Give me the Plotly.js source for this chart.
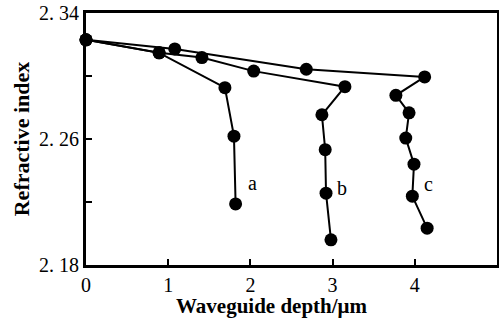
<!DOCTYPE html>
<html>
<head>
<meta charset="utf-8">
<script src="https://cdn.plot.ly/plotly-3.0.1.min.js"></script>
<style>html,body{margin:0;padding:0;background:#fff;}#chart{width:499px;height:322px;}</style>
</head>
<body>
<div id="chart"></div>
<script>
// Waveguide depth (um) and refractive index for curves a, b, c
const depthA = [0.00, 0.89, 1.69, 1.80, 1.82];
const indexA = [2.323, 2.3147, 2.2926, 2.2618, 2.2188];
const depthB = [0.00, 0.89, 1.41, 2.04, 3.15, 2.87, 2.91, 2.92, 2.98];
const indexB = [2.323, 2.3147, 2.3117, 2.3031, 2.2932, 2.2754, 2.2532, 2.2256, 2.1960];
const depthC = [0.00, 1.08, 2.68, 4.12, 3.77, 3.93, 3.89, 3.99, 3.97, 4.15];
const indexC = [2.323, 2.3172, 2.3043, 2.2994, 2.2877, 2.2766, 2.2606, 2.2440, 2.2237, 2.2034];
const curveLabels = ["a", "b", "c"];
const labelX = [2.02, 3.12, 4.17];
const labelY = [2.2323, 2.2292, 2.2317];
const xTicks = [0, 1, 2, 3, 4, 5];
const yTickVals = [2.18, 2.22, 2.26, 2.30, 2.34];
const yTickText = ["2. 18", "", "2. 26", "", "2. 34"];
const xTitle = "Waveguide depth/μm";
const yTitle = "Refractive index";

const serif = "Liberation Serif, Times New Roman, serif";
const mk = (x, y) => ({
  x: x, y: y, type: "scatter", mode: "lines+markers",
  line: {color: "#000", width: 2},
  marker: {color: "#000", size: 13},
  showlegend: false, cliponaxis: false
});
const data = [mk(depthA, indexA), mk(depthB, indexB), mk(depthC, indexC)];

const annotations = curveLabels.map((t, i) => ({
  x: labelX[i], y: labelY[i], text: t, showarrow: false,
  font: {family: serif, size: 20, color: "#000"}
}));
annotations.push({
  xref: "paper", yref: "paper", x: 0.452, y: -0.163, xanchor: "center", yanchor: "middle",
  text: "<b>" + xTitle + "</b>", showarrow: false,
  font: {family: serif, size: 21, color: "#000"}
});

const layout = {
  width: 499, height: 322,
  margin: {l: 86, r: 2, t: 13, b: 57, pad: 0},
  paper_bgcolor: "#fff", plot_bgcolor: "#fff",
  font: {family: serif, color: "#000"},
  xaxis: {
    range: [0, 5], tickvals: xTicks, ticktext: xTicks.map(String),
    ticks: "inside", ticklen: 6, tickwidth: 2, tickcolor: "#000",
    showline: true, linewidth: 3, linecolor: "#000", mirror: true,
    showgrid: false, zeroline: false,
    tickfont: {family: serif, size: 20, color: "#000"}
  },
  yaxis: {
    range: [2.18, 2.34], tickvals: yTickVals, ticktext: yTickText,
    ticks: "inside", ticklen: 6, tickwidth: 2, tickcolor: "#000",
    showline: true, linewidth: 3, linecolor: "#000", mirror: true,
    showgrid: false, zeroline: false,
    tickfont: {family: serif, size: 20, color: "#000"},
    title: {text: "<b>" + yTitle + "</b>", font: {family: serif, size: 22, color: "#000"}, standoff: 4}
  },
  annotations: annotations
};
Plotly.newPlot("chart", data, layout, {displayModeBar: false, staticPlot: true});
</script>
</body>
</html>
